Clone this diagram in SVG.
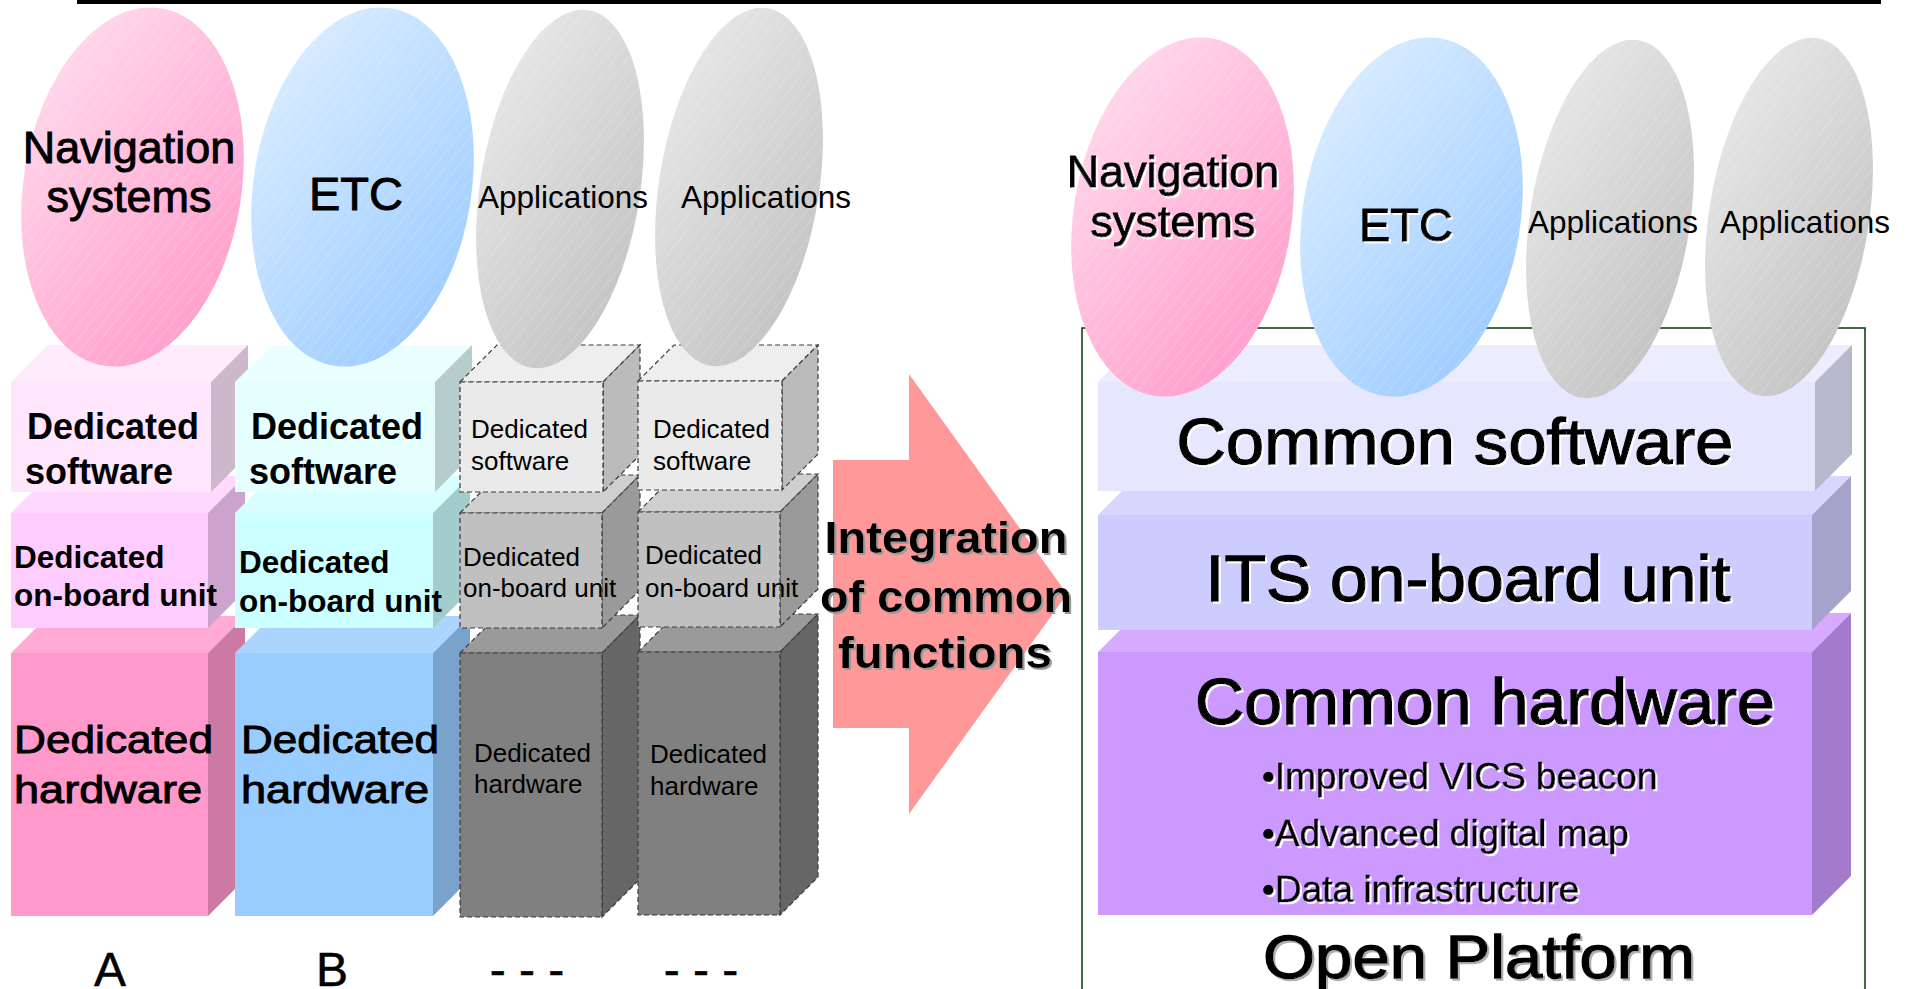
<svg xmlns="http://www.w3.org/2000/svg" width="1907" height="989" viewBox="0 0 1907 989">
  <defs>
    <linearGradient id="gPink" x1="0" y1="0" x2="1" y2="1">
      <stop offset="0" stop-color="#FFE0F0"/>
      <stop offset="1" stop-color="#FF96C8"/>
    </linearGradient>
    <linearGradient id="gBlue" x1="0" y1="0" x2="1" y2="1">
      <stop offset="0" stop-color="#E0F0FF"/>
      <stop offset="1" stop-color="#96C8FF"/>
    </linearGradient>
    <linearGradient id="gGray" x1="0" y1="0" x2="1" y2="1">
      <stop offset="0" stop-color="#EBEBEB"/>
      <stop offset="1" stop-color="#BFBFBF"/>
    </linearGradient>
    <pattern id="hatch" width="9" height="9" patternUnits="userSpaceOnUse" patternTransform="rotate(30)">
      <line x1="0" y1="0" x2="0" y2="9" stroke="#FFFFFF" stroke-opacity="0.35" stroke-width="1"/>
    </pattern>
    <filter id="shWhite" x="-5%" y="-20%" width="110%" height="140%">
      <feDropShadow dx="2" dy="2" stdDeviation="0" flood-color="#FFFFFF" flood-opacity="0.95"/>
    </filter>
    <filter id="shGray" x="-5%" y="-20%" width="110%" height="140%">
      <feDropShadow dx="2" dy="2" stdDeviation="0" flood-color="#9A9A9A" flood-opacity="1"/>
    </filter>
    <filter id="shLight" x="-5%" y="-20%" width="110%" height="140%">
      <feDropShadow dx="2" dy="2" stdDeviation="0" flood-color="#B0B0B0" flood-opacity="1"/>
    </filter>
  </defs>
  <style>
    text { font-family: "Liberation Sans", Arial, sans-serif; fill: #000; }
    .r { font-weight: normal; }
    .b { font-weight: bold; }
    .mid { text-anchor: middle; }
    /* slightly heavier regular lettering */
    .h1 { stroke: #000; stroke-width: 0.5; }
    .h2 { stroke: #000; stroke-width: 0.9; }
    .h3 { stroke: #000; stroke-width: 1.3; }
    .hatch { fill: url(#hatch); }
    .dash { stroke: #3A3A3A; stroke-width: 1.2; stroke-dasharray: 5 3; }
    /* pink column faces */
    .pSwF { fill: #FFE6FC; } .pSwT { fill: #FFEBFC; } .pSwS { fill: #CDB8CB; }
    .pObF { fill: #FFCCFF; } .pObT { fill: #FFD8FD; } .pObS { fill: #CCA3CC; }
    .pHwF { fill: #FF99CC; } .pHwT { fill: #FFABD6; } .pHwS { fill: #CC7AA3; }
    /* blue column faces */
    .bSwF { fill: #E5FFFF; } .bSwT { fill: #EAFFFF; } .bSwS { fill: #B7CCCC; }
    .bObF { fill: #CCFFFF; } .bObT { fill: #D8FFFF; } .bObS { fill: #A3CCCC; }
    .bHwF { fill: #99CCFF; } .bHwT { fill: #ABD5FF; } .bHwS { fill: #7AA3CC; }
    /* gray (unspecified) column faces */
    .gSwF { fill: #EAEAEA; } .gSwT { fill: #EEEEEE; } .gSwS { fill: #BBBBBB; }
    .gObF { fill: #C0C0C0; } .gObT { fill: #CFCFCF; } .gObS { fill: #9A9A9A; }
    .gHwF { fill: #808080; } .gHwT { fill: #9A9A9A; } .gHwS { fill: #666666; }
    /* common platform slabs */
    .cSwF { fill: #E6E6FF; } .cSwT { fill: #ECECFF; } .cSwS { fill: #B8B8CC; }
    .cItF { fill: #CCCCFF; } .cItT { fill: #D6D6FF; } .cItS { fill: #A3A3CC; }
    .cHwF { fill: #CC99FF; } .cHwT { fill: #D6ABFF; } .cHwS { fill: #A37ACC; }
  </style>

  <rect id="top-rule" x="77" y="0" width="1804" height="4" fill="#000"/>

  <!-- Column A: navigation system stack -->
  <g id="hw-a">
    <polygon class="pHwT" points="11,653 48,616 245,616 208,653"/>
    <polygon class="pHwS" points="208,653 245,616 245,879 208,916"/>
    <rect class="pHwF" x="11" y="653" width="197" height="263"/>
    <text class="r h2" x="14" y="753" font-size="38" textLength="199" lengthAdjust="spacingAndGlyphs">Dedicated</text>
    <text class="r h2" x="14" y="803" font-size="38" textLength="188" lengthAdjust="spacingAndGlyphs">hardware</text>
  </g>
  <g id="obu-a">
    <polygon class="pObT" points="11,513 48,476 245,476 208,513"/>
    <polygon class="pObS" points="208,513 245,476 245,591 208,628"/>
    <rect class="pObF" x="11" y="513" width="197" height="115"/>
    <text class="b" x="14" y="568" font-size="31.5">Dedicated</text>
    <text class="b" x="14" y="606" font-size="31.5">on-board unit</text>
  </g>
  <g id="sw-a">
    <polygon class="pSwT" points="11,382 48,345 248,345 211,382"/>
    <polygon class="pSwS" points="211,382 248,345 248,455 211,492"/>
    <rect class="pSwF" x="11" y="382" width="200" height="110"/>
    <text class="b" x="27" y="439" font-size="36">Dedicated</text>
    <text class="b" x="25" y="484" font-size="36">software</text>
  </g>

  <!-- Column B: ETC stack -->
  <g id="hw-b">
    <polygon class="bHwT" points="235,653 272,616 470,616 433,653"/>
    <polygon class="bHwS" points="433,653 470,616 470,879 433,916"/>
    <rect class="bHwF" x="235" y="653" width="198" height="263"/>
    <text class="r h2" x="241" y="753" font-size="38" textLength="198" lengthAdjust="spacingAndGlyphs">Dedicated</text>
    <text class="r h2" x="241" y="803" font-size="38" textLength="188" lengthAdjust="spacingAndGlyphs">hardware</text>
  </g>
  <g id="obu-b">
    <polygon class="bObT" points="235,513 272,476 470,476 433,513"/>
    <polygon class="bObS" points="433,513 470,476 470,591 433,628"/>
    <rect class="bObF" x="235" y="513" width="198" height="115"/>
    <text class="b" x="239" y="573" font-size="31.5">Dedicated</text>
    <text class="b" x="239" y="612" font-size="31.5">on-board unit</text>
  </g>
  <g id="sw-b">
    <polygon class="bSwT" points="235,382 272,345 472,345 435,382"/>
    <polygon class="bSwS" points="435,382 472,345 472,455 435,492"/>
    <rect class="bSwF" x="235" y="382" width="200" height="110"/>
    <text class="b" x="251" y="439" font-size="36">Dedicated</text>
    <text class="b" x="249" y="484" font-size="36">software</text>
  </g>

  <!-- Column C: further application stack (dashed) -->
  <g id="hw-c">
    <polygon class="gHwT dash" points="460,653 498,615 640,615 602,653"/>
    <polygon class="gHwS dash" points="602,653 640,615 640,879 602,917"/>
    <rect class="gHwF dash" x="460" y="653" width="142" height="264"/>
    <text class="r" x="474" y="762" font-size="26">Dedicated</text>
    <text class="r" x="474" y="793" font-size="26">hardware</text>
  </g>
  <g id="obu-c">
    <polygon class="gObT dash" points="460,513 498,475 640,475 602,513"/>
    <polygon class="gObS dash" points="602,513 640,475 640,590 602,628"/>
    <rect class="gObF dash" x="460" y="513" width="142" height="115"/>
    <text class="r" x="463" y="566" font-size="26">Dedicated</text>
    <text class="r" x="463" y="597" font-size="26">on-board unit</text>
  </g>
  <g id="sw-c">
    <polygon class="gSwT dash" points="460,382 497,345 640,345 603,382"/>
    <polygon class="gSwS dash" points="603,382 640,345 640,455 603,492"/>
    <rect class="gSwF dash" x="460" y="382" width="143" height="110"/>
    <text class="r" x="471" y="438" font-size="26">Dedicated</text>
    <text class="r" x="471" y="470" font-size="26">software</text>
  </g>

  <!-- Column D: further application stack (dashed) -->
  <g id="hw-d">
    <polygon class="gHwT dash" points="638,652 676,614 818,614 780,652"/>
    <polygon class="gHwS dash" points="780,652 818,614 818,877 780,915"/>
    <rect class="gHwF dash" x="638" y="652" width="142" height="263"/>
    <text class="r" x="650" y="763" font-size="26">Dedicated</text>
    <text class="r" x="650" y="795" font-size="26">hardware</text>
  </g>
  <g id="obu-d">
    <polygon class="gObT dash" points="638,512 676,474 818,474 780,512"/>
    <polygon class="gObS dash" points="780,512 818,474 818,589 780,627"/>
    <rect class="gObF dash" x="638" y="512" width="142" height="115"/>
    <text class="r" x="645" y="564" font-size="26">Dedicated</text>
    <text class="r" x="645" y="597" font-size="26">on-board unit</text>
  </g>
  <g id="sw-d">
    <polygon class="gSwT dash" points="638,381 674,345 818,345 782,381"/>
    <polygon class="gSwS dash" points="782,381 818,345 818,454 782,490"/>
    <rect class="gSwF dash" x="638" y="381" width="144" height="109"/>
    <text class="r" x="653" y="438" font-size="26">Dedicated</text>
    <text class="r" x="653" y="470" font-size="26">software</text>
  </g>

  <!-- Application ellipses above the separate stacks -->
  <g id="app-nav-a">
    <ellipse cx="132.5" cy="187" rx="109" ry="181" transform="rotate(9 132.5 187)" fill="url(#gPink)"/>
    <ellipse class="hatch" cx="132.5" cy="187" rx="109" ry="181" transform="rotate(9 132.5 187)"/>
    <text class="r h2 mid" x="129" y="163" font-size="45">Navigation</text>
    <text class="r h2 mid" x="129" y="212" font-size="45">systems</text>
  </g>
  <g id="app-etc-b">
    <ellipse cx="362.5" cy="187" rx="109" ry="181" transform="rotate(9 362.5 187)" fill="url(#gBlue)"/>
    <ellipse class="hatch" cx="362.5" cy="187" rx="109" ry="181" transform="rotate(9 362.5 187)"/>
    <text class="r h2 mid" x="356" y="210" font-size="47">ETC</text>
  </g>
  <g id="app-c">
    <ellipse cx="560" cy="189" rx="80" ry="181" transform="rotate(9 560 189)" fill="url(#gGray)"/>
    <ellipse class="hatch" cx="560" cy="189" rx="80" ry="181" transform="rotate(9 560 189)"/>
    <text class="r mid" x="563" y="208" font-size="31.5">Applications</text>
  </g>
  <g id="app-d">
    <ellipse cx="739" cy="187" rx="80" ry="181" transform="rotate(9 739 187)" fill="url(#gGray)"/>
    <ellipse class="hatch" cx="739" cy="187" rx="80" ry="181" transform="rotate(9 739 187)"/>
    <text class="r mid" x="766" y="208" font-size="31.5">Applications</text>
  </g>

  <!-- Column captions (run off the lower edge) -->
  <g id="captions">
    <text class="r h1 mid" x="110" y="986" font-size="48">A</text>
    <text class="r h1 mid" x="332" y="986" font-size="48">B</text>
    <text class="r h1 mid" x="527" y="986" font-size="48">- - -</text>
    <text class="r h1 mid" x="701" y="986" font-size="48">- - -</text>
  </g>

  <!-- Transition arrow -->
  <g id="connectors">
    <polygon points="833,460 909,460 909,374 1067,594 909,814 909,728 833,728" fill="#FF9999"/>
    <g filter="url(#shGray)">
      <text class="b mid" x="946" y="553" font-size="45" textLength="243" lengthAdjust="spacingAndGlyphs">Integration</text>
      <text class="b mid" x="946" y="612" font-size="45" textLength="252" lengthAdjust="spacingAndGlyphs">of common</text>
      <text class="b mid" x="945" y="668" font-size="45" textLength="214" lengthAdjust="spacingAndGlyphs">functions</text>
    </g>
  </g>

  <!-- Open platform frame -->
  <rect id="platform-frame" x="1082" y="328" width="783" height="700" fill="none" stroke="#174417" stroke-width="1.6"/>

  <!-- Common platform slabs -->
  <g id="common-hw">
    <polygon class="cHwT" points="1098,652 1137,613 1851,613 1812,652"/>
    <polygon class="cHwS" points="1812,652 1851,613 1851,876 1812,915"/>
    <rect class="cHwF" x="1098" y="652" width="714" height="263"/>
    <g filter="url(#shWhite)">
      <text class="r h3 mid" x="1485" y="724" font-size="64" textLength="580" lengthAdjust="spacingAndGlyphs">Common hardware</text>
      <text class="r h1" x="1262" y="789" font-size="37">•Improved VICS beacon</text>
      <text class="r h1" x="1262" y="846" font-size="37">•Advanced digital map</text>
      <text class="r h1" x="1262" y="902" font-size="37">•Data infrastructure</text>
    </g>
  </g>
  <g id="common-its">
    <polygon class="cItT" points="1098,515 1137,476 1851,476 1812,515"/>
    <polygon class="cItS" points="1812,515 1851,476 1851,591 1812,630"/>
    <rect class="cItF" x="1098" y="515" width="714" height="115"/>
    <text class="r h3 mid" x="1468" y="601" font-size="64" textLength="525" lengthAdjust="spacingAndGlyphs" filter="url(#shWhite)">ITS on-board unit</text>
  </g>
  <g id="common-sw">
    <polygon class="cSwT" points="1098,382 1135,345 1852,345 1815,382"/>
    <polygon class="cSwS" points="1815,382 1852,345 1852,454 1815,491"/>
    <rect class="cSwF" x="1098" y="382" width="717" height="109"/>
    <text class="r h3 mid" x="1455" y="464" font-size="64" textLength="557" lengthAdjust="spacingAndGlyphs" filter="url(#shWhite)">Common software</text>
  </g>
  <g id="open-platform">
    <text class="r h3 mid" x="1479" y="978" font-size="62" textLength="432" lengthAdjust="spacingAndGlyphs" filter="url(#shLight)">Open Platform</text>
  </g>

  <!-- Application ellipses on the common platform -->
  <g id="app-nav-r">
    <ellipse cx="1182.5" cy="217" rx="109" ry="181" transform="rotate(9 1182.5 217)" fill="url(#gPink)"/>
    <ellipse class="hatch" cx="1182.5" cy="217" rx="109" ry="181" transform="rotate(9 1182.5 217)"/>
    <g filter="url(#shWhite)">
      <text class="r h2 mid" x="1173" y="187" font-size="45">Navigation</text>
      <text class="r h2 mid" x="1173" y="237" font-size="45">systems</text>
    </g>
  </g>
  <g id="app-etc-r">
    <ellipse cx="1411.5" cy="217" rx="109" ry="181" transform="rotate(9 1411.5 217)" fill="url(#gBlue)"/>
    <ellipse class="hatch" cx="1411.5" cy="217" rx="109" ry="181" transform="rotate(9 1411.5 217)"/>
    <text class="r h2 mid" x="1406" y="241" font-size="47" filter="url(#shWhite)">ETC</text>
  </g>
  <g id="app-r1">
    <ellipse cx="1610" cy="219" rx="80" ry="181" transform="rotate(9 1610 219)" fill="url(#gGray)"/>
    <ellipse class="hatch" cx="1610" cy="219" rx="80" ry="181" transform="rotate(9 1610 219)"/>
    <text class="r mid" x="1613" y="233" font-size="31.5">Applications</text>
  </g>
  <g id="app-r2">
    <ellipse cx="1789" cy="217" rx="80" ry="181" transform="rotate(9 1789 217)" fill="url(#gGray)"/>
    <ellipse class="hatch" cx="1789" cy="217" rx="80" ry="181" transform="rotate(9 1789 217)"/>
    <text class="r mid" x="1805" y="233" font-size="31.5">Applications</text>
  </g>
</svg>
